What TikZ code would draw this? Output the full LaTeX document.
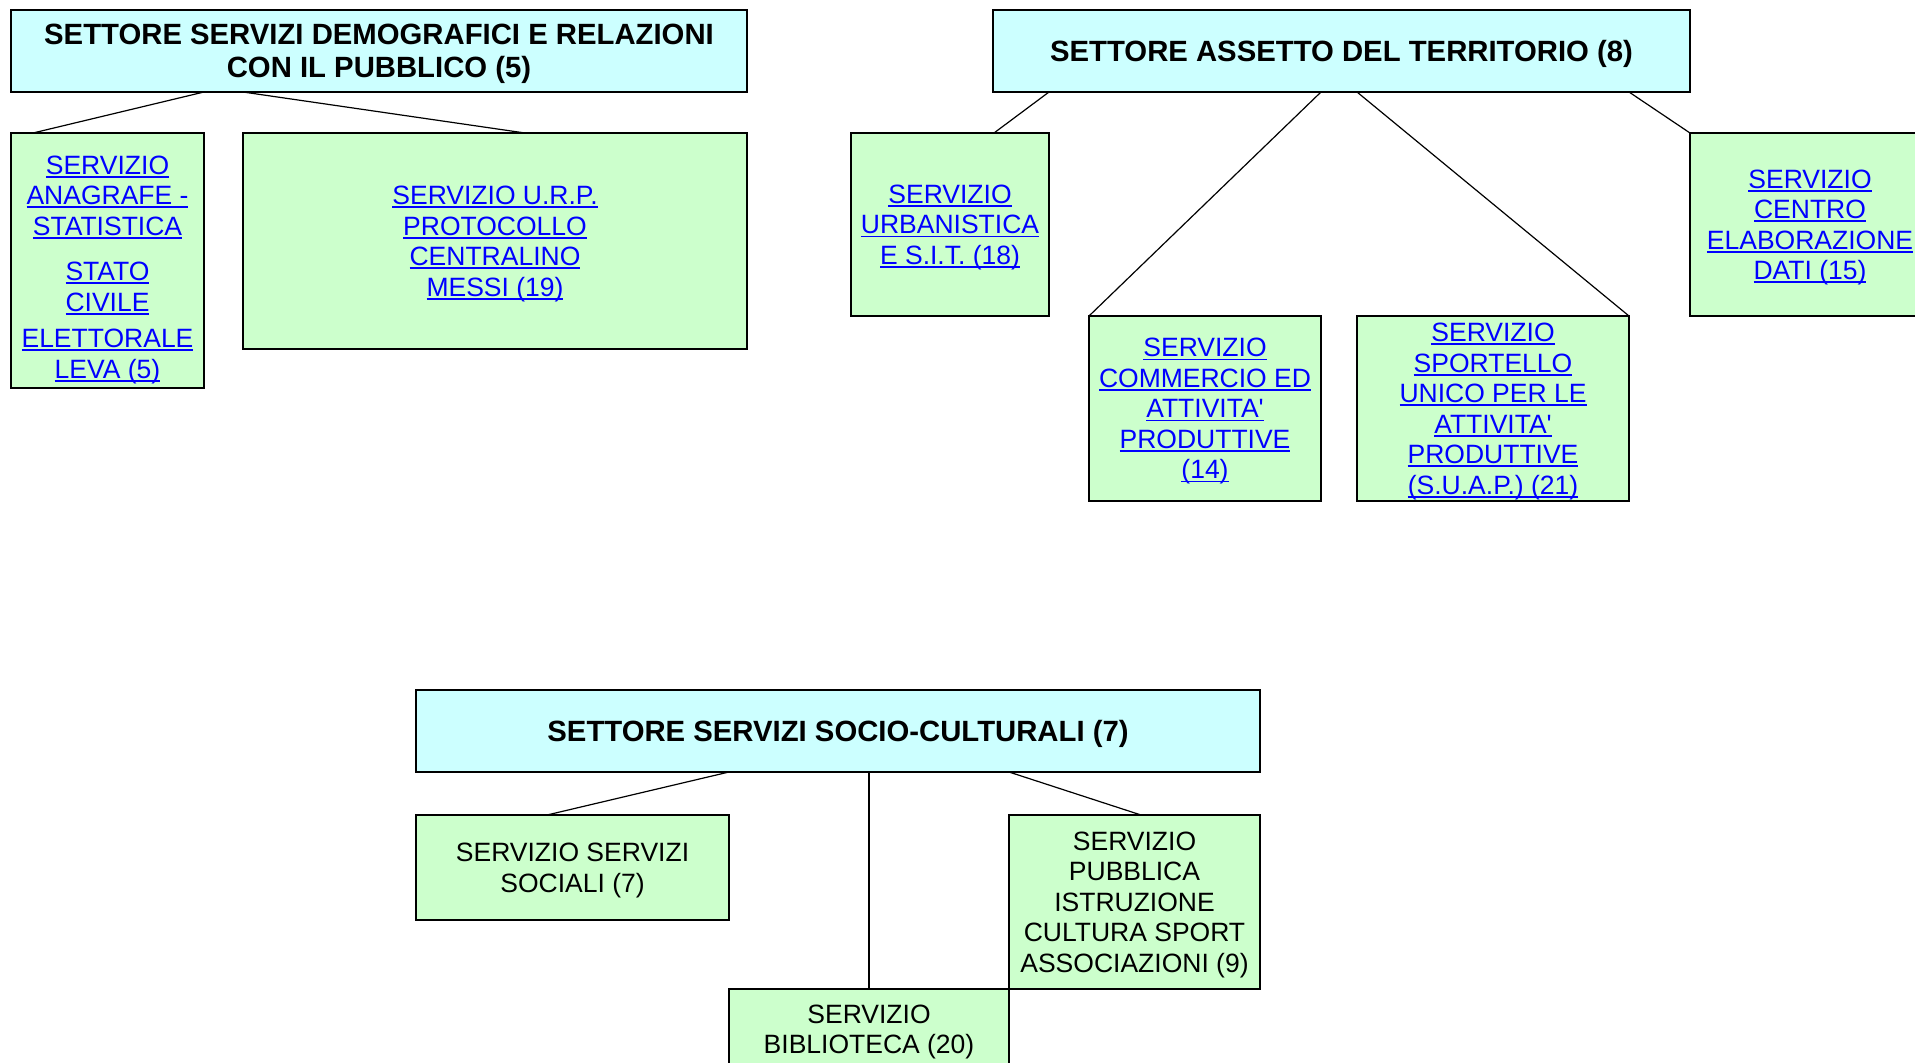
\documentclass[tikz,border=0pt]{standalone}
\usepackage{fontspec}
\setmainfont{Liberation Sans}
\usepackage{xcolor}
\usepackage{tikz}
\usetikzlibrary{positioning}

\definecolor{settcyan}{HTML}{CCFFFF}
\definecolor{servgreen}{HTML}{CCFFCC}
\definecolor{linkblue}{HTML}{0000FF}
% underlined link text, one line
\newcommand{\lk}[1]{\setbox0\hbox{#1}\rlap{\rule[-3.5pt]{\wd0}{1.6pt}}\box0}

\begin{document}
\begin{tikzpicture}[
            x = 1pt, y = -1pt, % one unit = one pixel
            semithick, % line style
            sector/.style = {draw, line width=2.8pt, fill=settcyan, align=center, text depth=0pt,
                font=\bfseries\fontsize{29.3}{33}\selectfont, inner sep=0pt, outer sep=0pt},
            serv/.style = {draw, line width=2pt, fill=servgreen, align=center, text depth=0pt,
                font=\fontsize{26.5}{30.5}\selectfont, inner sep=0pt, outer sep=0pt},
            servlink/.style = {serv, text=linkblue}
        ]

        \useasboundingbox (0,0) rectangle (1915,1063);

        % settore servizi demografici
        \node[sector, minimum width=736pt, minimum height=82pt, anchor=north west] (set1) at (11,10)
            {SETTORE SERVIZI DEMOGRAFICI E RELAZIONI\\CON IL PUBBLICO (5)};
        \node[servlink, minimum width=193pt, minimum height=255pt] (anag) [below right=41pt and 0pt of set1.south west]
            {\rule{0pt}{31pt}\lk{SERVIZIO}\\\lk{ANAGRAFE -}\\\lk{STATISTICA}\\[15pt]\lk{STATO}\\\lk{CIVILE}\\[6pt]\lk{ELETTORALE}\\\lk{LEVA (5)}};
        \node[servlink, minimum width=504pt, minimum height=216pt] (urp) [below left=41pt and 0pt of set1.south east]
            {\lk{SERVIZIO U.R.P.}\\\lk{PROTOCOLLO}\\\lk{CENTRALINO}\\\lk{MESSI (19)}};

        % settore assetto del territorio
        \node[sector, minimum width=697pt, minimum height=82pt] (set2) [right=246pt of set1]
            {SETTORE ASSETTO DEL TERRITORIO (8)};
        \node[servlink, minimum width=198pt, minimum height=183pt] (urb) [below right=41pt and -142pt of set2.south west]
            {\lk{SERVIZIO}\\\lk{URBANISTICA}\\\lk{E S.I.T. (18)}};
        \node[servlink, minimum width=232pt, minimum height=185pt] (comm) [below right=0pt and 40pt of urb.south east]
            {\lk{SERVIZIO}\\\lk{COMMERCIO ED}\\\lk{ATTIVITA\textquotesingle}\\\lk{PRODUTTIVE}\\\lk{(14)}};
        \node[servlink, minimum width=272pt, minimum height=185pt] (sport) [right=36pt of comm]
            {\lk{SERVIZIO}\\\lk{SPORTELLO}\\\lk{UNICO PER LE}\\\lk{ATTIVITA\textquotesingle}\\\lk{PRODUTTIVE}\\\lk{(S.U.A.P.) (21)}};
        \node[servlink, minimum width=240pt, minimum height=183pt] (ced) [below right=41pt and 0pt of set2.south east]
            {\lk{SERVIZIO}\\\lk{CENTRO}\\\lk{ELABORAZIONE}\\\lk{DATI (15)}};

        % settore servizi socio-culturali
        \node[sector, minimum width=844pt, minimum height=82pt, anchor=north west] (set3) at (416,690)
            {SETTORE SERVIZI SOCIO-CULTURALI (7)};
        \node[serv, minimum width=313pt, minimum height=105pt] (soc) [below right=43pt and 0pt of set3.south west]
            {SERVIZIO SERVIZI\\SOCIALI (7)};
        \node[serv, minimum width=251pt, minimum height=174pt] (pub) [below left=43pt and 0pt of set3.south east]
            {SERVIZIO\\PUBBLICA\\ISTRUZIONE\\CULTURA SPORT\\ASSOCIAZIONI (9)};
        \node[serv, minimum width=280pt, minimum height=80pt] (bib) [below left=0pt and 0pt of pub.south west]
            {SERVIZIO\\BIBLIOTECA (20)};

        \path[-, line width=1.2pt]
            (anag.north east |- set1.south)   edge   ([xshift=22pt]anag.north west)
            (urp.north west |- set1.south)    edge   ([xshift=282pt]urp.north west)

            (urb.north east |- set2.south)    edge   ([xshift=143pt]urb.north west)
            (comm.north east |- set2.south)   edge   (comm.north west)
            (sport.north west |- set2.south)  edge   (sport.north east)
            (sport.north east |- set2.south)  edge   (ced.north west)

            (soc.north east |- set3.south)    edge   ([xshift=131pt]soc.north west)
            (bib.north |- set3.south)         edge   (bib.north)
            (pub.north west |- set3.south)    edge   ([xshift=132pt]pub.north west);

\end{tikzpicture}
\end{document}
